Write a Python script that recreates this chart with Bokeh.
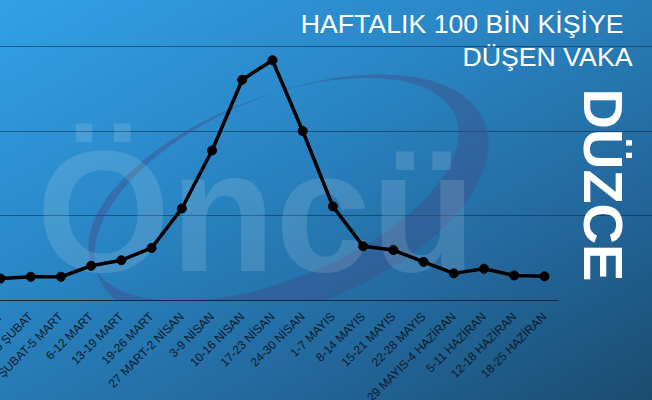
import numpy as np
from math import pi
from bokeh.plotting import figure
from bokeh.models import Range1d, FixedTicker, Label, PolyAnnotation
from bokeh.embed import file_html
from bokeh.resources import INLINE

# ---- data ----
weeks = ["13-19 ŞUBAT", "20-26 ŞUBAT", "27 ŞUBAT-5 MART", "6-12 MART", "13-19 MART",
         "19-26 MART", "27 MART-2 NİSAN", "3-9 NİSAN", "10-16 NİSAN", "17-23 NİSAN",
         "24-30 NİSAN", "1-7 MAYIS", "8-14 MAYIS", "15-21 MAYIS", "22-28 MAYIS",
         "29 MAYIS-4 HAZİRAN", "5-11 HAZİRAN", "12-18 HAZİRAN", "18-25 HAZİRAN"]
cases = [52, 56, 56, 82, 95, 124, 217, 354, 521, 567, 400, 222, 128, 119, 91, 64, 75, 59, 57]
y_ticks = [0, 200, 400, 600]
title_lines = ["HAFTALIK 100 BİN KİŞİYE", "DÜŞEN VAKA"]
province = "DÜZCE"
watermark = "Öncü"

# ---- layout constants ----
OFF = 70                 # part of the canvas hidden past the left window edge
FW, FH = 652 + OFF, 300
STEP = 30.22
XS = -OFF / STEP
XE = XS + FW / STEP
YMAX = 708
CHART_RIGHT = 558
BL = 0.36  # baseline compensation (em) for svg text

def px2x(px):
    return px / STEP

def py2y(py):
    return (FH - py) * YMAX / FH

idx = list(range(len(weeks)))

p = figure(width=FW, height=400, frame_width=FW, frame_height=FH,
           output_backend="svg", toolbar_location=None,
           x_range=Range1d(XS, XE), y_range=Range1d(0, YMAX),
           y_axis_location=None,
           min_border_left=0, min_border_top=0, min_border_right=0, min_border_bottom=100)
p.background_fill_alpha = 0
p.border_fill_alpha = 0
p.outline_line_color = None
p.styles = {"margin-left": f"-{OFF}px",
            "background-image": "linear-gradient(150deg, #33a4ea 0%, #2a88c8 38%, #23699e 70%, #1b4a6d 100%)"}

# grid
p.xgrid.visible = False
p.ygrid.ticker = FixedTicker(ticks=y_ticks)
p.ygrid.bounds = (px2x(-2), px2x(CHART_RIGHT))
p.ygrid.grid_line_color = "#0d2840"
p.ygrid.grid_line_alpha = 0.55
p.ygrid.level = "underlay"

# x axis
ax = p.xaxis[0]
ax.ticker = FixedTicker(ticks=idx)
ax.bounds = (px2x(-2), px2x(CHART_RIGHT))
ax.major_label_overrides = {i: w for i, w in enumerate(weeks)}
ax.major_label_orientation = pi / 4
ax.major_label_text_font = "Liberation Sans"
ax.major_label_text_font_size = "12px"
ax.major_label_text_color = "#0d1b2a"
ax.major_label_standoff = 14
ax.axis_line_color = "#13263a"
ax.axis_line_width = 1.2
ax.major_tick_line_color = None
ax.minor_tick_line_color = None
ax.major_tick_out = 0
ax.major_tick_in = 0

# swoosh decoration (logo)
t = np.linspace(0, 2 * pi, 240)
ang = np.deg2rad(21.8)
u = np.array([np.cos(ang), -np.sin(ang)])
v = np.array([np.sin(ang), np.cos(ang)])
C = np.array([291.0, 199.0])
def ell(c, a, b):
    return (c[0] + a * np.cos(t) * u[0] + b * np.sin(t) * v[0],
            c[1] + a * np.cos(t) * u[1] + b * np.sin(t) * v[1])
ox, oy = ell(C, 208, 106)
Ci = C - 13 * u - 16 * v
ix, iy = ell(Ci, 196, 91)
sx = np.concatenate([ox, ix[::-1]])
sy = np.concatenate([oy, iy[::-1]])
sw = PolyAnnotation(xs=[px2x(x) for x in sx], ys=[py2y(y) for y in sy],
                    fill_color="#3e4f8a", fill_alpha=0.45, line_color=None, level="underlay")
p.add_layout(sw)

# watermark
WM = 172
p.add_layout(Label(x=px2x(36), y=py2y(272 - BL * WM), text=watermark, text_font="Liberation Sans",
                   text_font_style="bold", text_font_size=f"{WM}px", text_color="white",
                   text_baseline="alphabetic", text_alpha=0.13, level="underlay"))

# data line
p.line(idx, cases, line_color="black", line_width=3.5)
p.scatter(idx, cases, size=9, color="black")

# titles
TS = 26.7
p.add_layout(Label(x=px2x(623), y=py2y(33 - BL * TS), text=title_lines[0], text_align="right",
                   text_baseline="alphabetic", text_font="Liberation Sans",
                   text_font_size=f"{TS}px", text_color="white"))
p.add_layout(Label(x=px2x(632), y=py2y(66 - BL * TS), text=title_lines[1], text_align="right",
                   text_baseline="alphabetic", text_font="Liberation Sans",
                   text_font_size=f"{TS}px", text_color="white"))
PS = 56
p.add_layout(Label(x=px2x(581 + BL * PS + 2), y=py2y(88), text=province, angle=-pi / 2,
                   text_align="left", text_baseline="alphabetic", text_font="Liberation Sans",
                   text_font_style="bold", text_font_size=f"{PS}px", text_color="white"))

open("out.html", "w").write(file_html(p, INLINE))
